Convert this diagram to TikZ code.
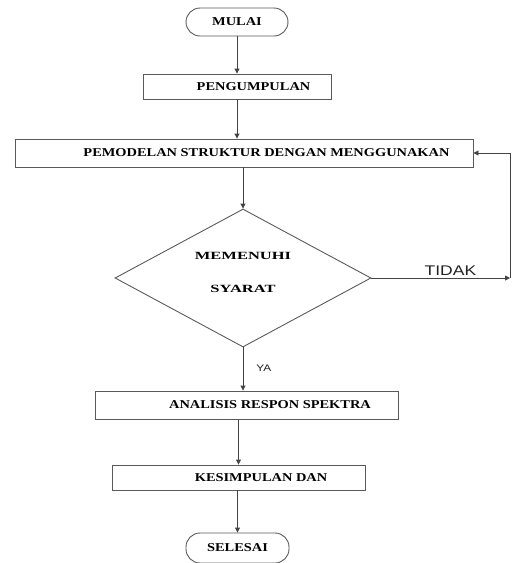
\documentclass[tikz,border=0pt]{standalone}
\usepackage{fontspec}
\setmainfont[FakeStretch=1.2]{Liberation Serif}
\newfontfamily\decfont[FakeStretch=1.5]{Liberation Serif}
\newfontfamily\tagfont[FakeStretch=1.25]{Liberation Sans}
\usetikzlibrary{arrows.meta,shapes.geometric}
\def\wLine{0.9pt}
\definecolor{cInk}{HTML}{222222}
\definecolor{cEdge}{HTML}{5A5A5A}
\tikzset{
  chart/.style={every node/.style={align=center}},
  box/.style={draw=cEdge, line width=\wLine, inner sep=0pt, text=black,
    font=\fontsize{12}{14}\selectfont\bfseries},
  term/.style={box, rounded corners=14pt},
  decide/.style={box, shape=diamond, shape aspect=1.85, text depth=12pt,
    font=\decfont\fontsize{11}{33}\selectfont\bfseries},
  flow/.style={draw=cInk!85, line width=\wLine, -{Triangle[length=5pt, width=5pt]}},
  tag/.style={font=\tagfont\fontsize{14}{16}\selectfont, text=cInk, inner sep=2pt},
}

\begin{document}
\begin{tikzpicture}[chart, x=1pt, y=-1pt]
% Flow chart, units are pixels of the 512 x 563 frame, y runs down.
\useasboundingbox (0,0) rectangle (512,563);
\node[term, minimum width=102pt, minimum height=28pt] (start) at (237,22) {MULAI};
\node[box, minimum width=188pt, minimum height=25pt] (collect) at (237,86.5) {\hspace*{33pt}PENGUMPULAN};
\node[box, minimum width=458pt, minimum height=28pt] (model) at (244,153) {\hspace*{45pt}PEMODELAN STRUKTUR DENGAN MENGGUNAKAN};
\node[decide, minimum width=256pt, minimum height=138pt] (check) at (243,278) {MEMENUHI\\SYARAT};
\node[box, minimum width=303pt, minimum height=28pt] (analysis) at (246.5,405) {\hspace*{47pt}ANALISIS RESPON SPEKTRA};
\node[box, minimum width=253pt, minimum height=25pt] (conclusion) at (238.5,477.5) {\hspace*{45pt}KESIMPULAN DAN};
\node[term, minimum width=103pt, minimum height=30pt] (finish) at (237.5,548) {SELESAI};
\coordinate (back) at (510,278);
\draw[flow] (start) -- (collect);
\draw[flow] (collect) -- (collect |- model.north);
\draw[flow] (check.north |- model.south) -- (check.north);
\draw[flow] (check.east) -- (back) node[tag, pos=0.57, above] {TIDAK};
\draw[flow] (back) |- (model.east);
\draw[flow] (check.south) -- (check.south |- analysis.north)
  node[tag, font=\tagfont\fontsize{9.5}{11}\selectfont, pos=0.48, right=11pt] {YA};
\draw[flow] (conclusion.north |- analysis.south) -- (conclusion.north);
\draw[flow] (finish.north |- conclusion.south) -- (finish.north);
\end{tikzpicture}
\end{document}
